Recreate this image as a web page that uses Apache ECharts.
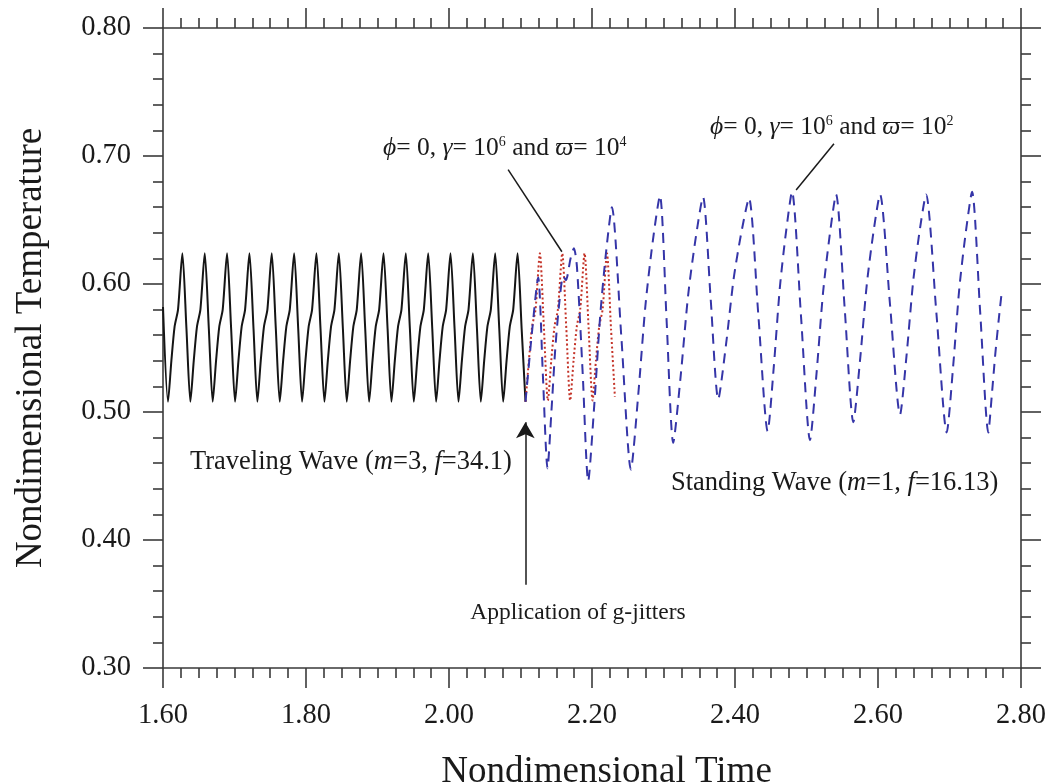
<!DOCTYPE html>
<html>
<head>
<meta charset="utf-8">
<script src="https://cdn.jsdelivr.net/npm/echarts@6/dist/echarts.min.js"></script>
<style>
html,body{margin:0;padding:0;background:#ffffff;}
#chart{width:1051px;height:784px;}
</style>
</head>
<body>
<div id="chart"></div>
<script>
// ---- axis ticks ----
const xTickValues = [1.60, 1.80, 2.00, 2.20, 2.40, 2.60, 2.80];
const xTickLabels = ['1.60', '1.80', '2.00', '2.20', '2.40', '2.60', '2.80'];
const yTickValues = [0.30, 0.40, 0.50, 0.60, 0.70, 0.80];
const yTickLabels = ['0.30', '0.40', '0.50', '0.60', '0.70', '0.80'];

// ---- traveling wave (m=3, f=34.1), black solid ----
const travelingWave = [
  [1.6000,0.582],
  [1.6070,0.508],[1.6117,0.540],[1.6163,0.567],[1.6210,0.580],[1.6271,0.624],[1.6328,0.565],
  [1.6383,0.508],[1.6430,0.540],[1.6476,0.567],[1.6523,0.580],[1.6584,0.624],[1.6641,0.565],
  [1.6695,0.508],[1.6742,0.540],[1.6788,0.567],[1.6835,0.580],[1.6896,0.624],[1.6953,0.565],
  [1.7008,0.508],[1.7055,0.540],[1.7101,0.567],[1.7148,0.580],[1.7209,0.624],[1.7266,0.565],
  [1.7320,0.508],[1.7367,0.540],[1.7413,0.567],[1.7460,0.580],[1.7521,0.624],[1.7578,0.565],
  [1.7633,0.508],[1.7680,0.540],[1.7726,0.567],[1.7773,0.580],[1.7834,0.624],[1.7891,0.565],
  [1.7945,0.508],[1.7992,0.540],[1.8038,0.567],[1.8085,0.580],[1.8146,0.624],[1.8203,0.565],
  [1.8258,0.508],[1.8305,0.540],[1.8351,0.567],[1.8398,0.580],[1.8459,0.624],[1.8516,0.565],
  [1.8570,0.508],[1.8617,0.540],[1.8663,0.567],[1.8710,0.580],[1.8771,0.624],[1.8828,0.565],
  [1.8883,0.508],[1.8930,0.540],[1.8976,0.567],[1.9023,0.580],[1.9084,0.624],[1.9141,0.565],
  [1.9195,0.508],[1.9242,0.540],[1.9288,0.567],[1.9335,0.580],[1.9396,0.624],[1.9453,0.565],
  [1.9508,0.508],[1.9555,0.540],[1.9601,0.567],[1.9648,0.580],[1.9709,0.624],[1.9766,0.565],
  [1.9820,0.508],[1.9867,0.540],[1.9913,0.567],[1.9960,0.580],[2.0021,0.624],[2.0078,0.565],
  [2.0133,0.508],[2.0180,0.540],[2.0226,0.567],[2.0273,0.580],[2.0334,0.624],[2.0391,0.565],
  [2.0445,0.508],[2.0492,0.540],[2.0538,0.567],[2.0585,0.580],[2.0646,0.624],[2.0703,0.565],
  [2.0758,0.508],[2.0805,0.540],[2.0851,0.567],[2.0898,0.580],[2.0959,0.624],[2.1016,0.565],
  [2.1070,0.508]
];

// ---- phi=0, gamma=1e6, varpi=1e4 : red dotted ----
const jitterHighFreq = [
  [2.1070,0.508],[2.1117,0.540],[2.1163,0.567],[2.1210,0.580],[2.1271,0.624],[2.1328,0.565],
  [2.1383,0.509],[2.1430,0.540],[2.1476,0.567],[2.1523,0.580],[2.1584,0.624],[2.1641,0.565],
  [2.1695,0.509],[2.1742,0.540],[2.1788,0.567],[2.1835,0.580],[2.1896,0.624],[2.1953,0.565],
  [2.2008,0.509],[2.2055,0.540],[2.2101,0.567],[2.2148,0.580],[2.2209,0.624],[2.2266,0.565],
  [2.2320,0.512]
];

// ---- phi=0, gamma=1e6, varpi=1e2 : blue dashed (standing wave m=1, f=16.13) ----
const jitterLowFreq = [
  [2.1070,0.508],[2.1160,0.562],[2.1247,0.605],[2.1312,0.530],[2.1378,0.456],
  [2.1432,0.500],[2.1487,0.550],[2.1542,0.585],[2.1597,0.606],[2.1635,0.603],[2.1700,0.620],[2.1747,0.628],
  [2.1790,0.613],[2.1870,0.530],[2.1947,0.446],
  [2.2030,0.504],[2.2113,0.574],[2.2195,0.624],[2.2278,0.660],[2.2411,0.558],[2.2544,0.455],
  [2.2646,0.513],[2.2747,0.583],[2.2849,0.633],[2.2950,0.669],[2.3043,0.572],[2.3136,0.476],
  [2.3240,0.528],[2.3344,0.591],[2.3448,0.635],[2.3552,0.668],[2.3659,0.589],[2.3766,0.510],
  [2.3873,0.552],[2.3981,0.604],[2.4088,0.640],[2.4195,0.667],[2.4326,0.576],[2.4457,0.485],
  [2.4542,0.535],[2.4627,0.597],[2.4712,0.640],[2.4797,0.672],[2.4923,0.575],[2.5049,0.478],
  [2.5140,0.530],[2.5231,0.593],[2.5322,0.637],[2.5413,0.670],[2.5534,0.581],[2.5655,0.492],
  [2.5748,0.540],[2.5842,0.599],[2.5935,0.640],[2.6028,0.670],[2.6168,0.584],[2.6308,0.498],
  [2.6399,0.544],[2.6490,0.601],[2.6581,0.641],[2.6672,0.670],[2.6817,0.577],[2.6961,0.484],
  [2.7050,0.535],[2.7138,0.597],[2.7227,0.640],[2.7315,0.672],[2.7429,0.578],[2.7543,0.484],
  [2.7590,0.512],[2.7640,0.545],[2.7690,0.573],[2.7731,0.594]
];

// ---- annotation anchors (data coordinates) ----
const leader1 = [[2.0827, 0.6893], [2.1579, 0.6252]];
const leader2 = [[2.5384, 0.7096], [2.4855, 0.6735]];
const arrowJitter = [[2.1068, 0.3651], [2.1068, 0.4920]];

const serif = '"Liberation Serif","Times New Roman",Times,serif';
const ink = '#1a1a1a';
const axisInk = '#3a3a3a';

function fmt(values, labels) {
  return function (v) {
    for (let i = 0; i < values.length; i++) {
      if (Math.abs(values[i] - v) < 1e-6) return labels[i];
    }
    return '';
  };
}

function richFor(size) {
  return {
    i: { fontSize: size, fontFamily: serif, fontStyle: 'italic', fill: ink },
    sup: { fontSize: Math.round(size * 0.56), fontFamily: serif, fill: ink, verticalAlign: 'top' }
  };
}

const axisCommon = {
  type: 'value',
  splitLine: { show: false },
  axisLine: { show: true, onZero: false, lineStyle: { color: axisInk, width: 1.6 } },
  axisTick: { show: true, inside: false, length: 20, lineStyle: { color: axisInk, width: 1.6 } },
  minorTick: { show: true, length: 10, lineStyle: { color: axisInk, width: 1.6 } },
  minorSplitLine: { show: false }
};

const chart = echarts.init(document.getElementById('chart'), null, { renderer: 'canvas' });

chart.setOption({
  animation: false,
  backgroundColor: '#ffffff',
  textStyle: { fontFamily: serif, color: ink },
  grid: { left: 163, right: 30, top: 28, bottom: 116, containLabel: false, outerBoundsMode: 'none' },
  xAxis: [
    Object.assign({}, axisCommon, {
      position: 'bottom', min: 1.6, max: 2.8, interval: 0.2,
      minorTick: Object.assign({}, axisCommon.minorTick, { splitNumber: 8 }),
      axisLabel: { show: true, margin: 33, fontSize: 28.5, fontFamily: serif, color: ink,
        formatter: fmt(xTickValues, xTickLabels) },
      name: 'Nondimensional Time', nameLocation: 'middle', nameGap: 86,
      nameTextStyle: { fontSize: 37, fontFamily: serif, color: ink, padding: [0, 0, 0, 29] }
    }),
    Object.assign({}, axisCommon, {
      position: 'top', min: 1.6, max: 2.8, interval: 0.2,
      minorTick: Object.assign({}, axisCommon.minorTick, { splitNumber: 8 }),
      axisLabel: { show: false }
    })
  ],
  yAxis: [
    Object.assign({}, axisCommon, {
      position: 'left', min: 0.3, max: 0.8, interval: 0.1,
      minorTick: Object.assign({}, axisCommon.minorTick, { splitNumber: 5 }),
      axisLabel: { show: true, margin: 32, fontSize: 28.5, fontFamily: serif, color: ink,
        formatter: fmt(yTickValues, yTickLabels) },
      name: 'Nondimensional Temperature', nameLocation: 'middle', nameGap: 113,
      nameTextStyle: { fontSize: 37, fontFamily: serif, color: ink }
    }),
    Object.assign({}, axisCommon, {
      position: 'right', min: 0.3, max: 0.8, interval: 0.1,
      minorTick: Object.assign({}, axisCommon.minorTick, { splitNumber: 5 }),
      axisLabel: { show: false }
    })
  ],
  series: [
    {
      name: 'Traveling Wave', type: 'line', xAxisIndex: 0, yAxisIndex: 0,
      data: travelingWave, showSymbol: false, symbol: 'none', smooth: 0.25,
      lineStyle: { color: '#151515', width: 2 }, z: 3
    },
    {
      name: 'varpi=1e4', type: 'line', xAxisIndex: 0, yAxisIndex: 0,
      data: jitterHighFreq, showSymbol: false, symbol: 'none', smooth: 0.25,
      lineStyle: { color: '#c43328', width: 2, type: [2, 2.5] }, z: 3
    },
    {
      name: 'varpi=1e2', type: 'line', xAxisIndex: 0, yAxisIndex: 0,
      data: jitterLowFreq, showSymbol: false, symbol: 'none', smooth: 0.25,
      lineStyle: { color: '#3535a8', width: 2, type: [10, 7] }, z: 4,
      markLine: {
        silent: true, animation: false, symbol: ['none', 'none'],
        label: { show: false },
        lineStyle: { color: ink, width: 1.5, type: 'solid' },
        data: [
          [{ coord: leader1[0] }, { coord: leader1[1] }],
          [{ coord: leader2[0] }, { coord: leader2[1] }],
          [{ coord: arrowJitter[0], symbol: 'none' },
           { coord: arrowJitter[1], symbol: 'arrow', symbolSize: [14, 16] }]
        ]
      }
    }
  ],
  graphic: [
    { type: 'text', x: 383, y: 148, silent: true,
      style: { text: '{i|ϕ}= 0, {i|γ}= 10{sup|6} and {i|ϖ}= 10{sup|4}', rich: richFor(25.5),
        fontSize: 25.5, fontFamily: serif, fill: ink, align: 'left', verticalAlign: 'middle' } },
    { type: 'text', x: 710, y: 127, silent: true,
      style: { text: '{i|ϕ}= 0, {i|γ}= 10{sup|6} and {i|ϖ}= 10{sup|2}', rich: richFor(25.5),
        fontSize: 25.5, fontFamily: serif, fill: ink, align: 'left', verticalAlign: 'middle' } },
    { type: 'text', x: 190, y: 462, silent: true,
      style: { text: 'Traveling Wave ({i|m}=3, {i|f}=34.1)', rich: richFor(26.5),
        fontSize: 26.5, fontFamily: serif, fill: ink, align: 'left', verticalAlign: 'middle' } },
    { type: 'text', x: 671, y: 483, silent: true,
      style: { text: 'Standing Wave ({i|m}=1, {i|f}=16.13)', rich: richFor(26.5),
        fontSize: 26.5, fontFamily: serif, fill: ink, align: 'left', verticalAlign: 'middle' } },
    { type: 'text', x: 578, y: 613, silent: true,
      style: { text: 'Application of g-jitters', fontSize: 23.5, fontFamily: serif, fill: ink,
        align: 'center', verticalAlign: 'middle' } }
  ]
});
</script>
</body>
</html>
